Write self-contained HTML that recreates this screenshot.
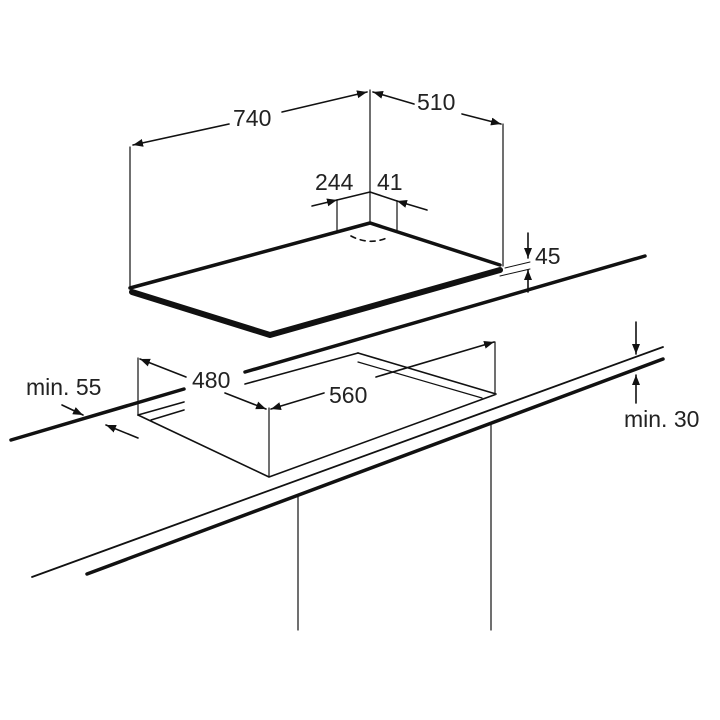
<!DOCTYPE html>
<html><head><style>html,body{margin:0;padding:0;background:#fff}svg{display:block}</style></head>
<body>
<svg width="720" height="720" viewBox="0 0 720 720" xmlns="http://www.w3.org/2000/svg">
<defs>
<marker id="a" viewBox="0 0 10 10" refX="10" refY="5" markerWidth="10" markerHeight="10" orient="auto-start-reverse" markerUnits="userSpaceOnUse">
<path d="M0,1 L10,5 L0,9 z" fill="#111"/></marker>
</defs>
<g stroke="#111" fill="none" stroke-linecap="round">
<line x1="370" y1="90" x2="370" y2="223" stroke-width="1.2"/>
<line x1="130" y1="147" x2="130" y2="288" stroke-width="1.2"/>
<line x1="503" y1="124" x2="503" y2="266" stroke-width="1.2"/>
<line x1="229" y1="124" x2="133" y2="145" stroke-width="1.6" marker-end="url(#a)"/>
<line x1="282" y1="112" x2="367" y2="92" stroke-width="1.6" marker-end="url(#a)"/>
<line x1="414" y1="104" x2="373" y2="92" stroke-width="1.6" marker-end="url(#a)"/>
<line x1="462" y1="114" x2="501" y2="124" stroke-width="1.6" marker-end="url(#a)"/>
<line x1="370" y1="192" x2="337" y2="200" stroke-width="1.6"/>
<line x1="312" y1="206" x2="337" y2="200" stroke-width="1.6" marker-end="url(#a)"/>
<line x1="370" y1="192" x2="397" y2="201" stroke-width="1.6"/>
<line x1="427" y1="210" x2="397" y2="201" stroke-width="1.6" marker-end="url(#a)"/>
<line x1="337" y1="200" x2="337" y2="232" stroke-width="1.2"/>
<line x1="397" y1="201" x2="397" y2="230" stroke-width="1.2"/>
<path d="M351,236 Q370,246 389,237" stroke-width="1.6" stroke-dasharray="5,5"/>
<polyline points="130,288 370,223 500,265" stroke-width="3.5"/>
<polyline points="132,292 270,335 500,270" stroke-width="6" stroke-linejoin="round"/>
<line x1="528" y1="233" x2="528" y2="258" stroke-width="1.6" marker-end="url(#a)"/>
<line x1="528" y1="292" x2="528" y2="270" stroke-width="1.6" marker-end="url(#a)"/>
<line x1="505" y1="268" x2="530" y2="262" stroke-width="1"/>
<line x1="500" y1="276" x2="530" y2="269" stroke-width="1"/>
<line x1="245" y1="372" x2="645" y2="256" stroke-width="3.5"/>
<line x1="245" y1="384" x2="358" y2="353" stroke-width="1.6"/>
<polyline points="358,353 496,394" stroke-width="1.6"/>
<polyline points="358,362 482,398" stroke-width="1.2"/>
<line x1="138" y1="358" x2="138" y2="415" stroke-width="1.2"/>
<line x1="495" y1="342" x2="495" y2="395" stroke-width="1.2"/>
<line x1="269" y1="408" x2="269" y2="477" stroke-width="1.2"/>
<polyline points="138,415 269,477 494,395" stroke-width="1.6" stroke-linejoin="round"/>
<line x1="138" y1="415" x2="184" y2="402" stroke-width="1.6"/>
<line x1="151" y1="420" x2="184" y2="410" stroke-width="1.6"/>
<line x1="11" y1="440" x2="184" y2="389" stroke-width="3.5"/>
<line x1="32" y1="577" x2="663" y2="347" stroke-width="1.8"/>
<line x1="87" y1="574" x2="663" y2="359" stroke-width="3.5"/>
<line x1="298" y1="495" x2="298" y2="630" stroke-width="1.2"/>
<line x1="491" y1="424" x2="491" y2="630" stroke-width="1.2"/>
<line x1="636" y1="322" x2="636" y2="354" stroke-width="1.6" marker-end="url(#a)"/>
<line x1="636" y1="403" x2="636" y2="375" stroke-width="1.6" marker-end="url(#a)"/>
<line x1="62" y1="405" x2="83" y2="415" stroke-width="1.6" marker-end="url(#a)"/>
<line x1="138" y1="438" x2="106" y2="425" stroke-width="1.6" marker-end="url(#a)"/>
<line x1="186" y1="377" x2="140" y2="359" stroke-width="1.6" marker-end="url(#a)"/>
<line x1="225" y1="393" x2="266" y2="409" stroke-width="1.6" marker-end="url(#a)"/>
<line x1="324" y1="393" x2="271" y2="409" stroke-width="1.6" marker-end="url(#a)"/>
<line x1="376" y1="377" x2="494" y2="342" stroke-width="1.6" marker-end="url(#a)"/>
</g>
<g font-family="Liberation Sans, Arial, sans-serif" font-size="23" fill="#222">
<text x="233" y="126">740</text>
<text x="417" y="110">510</text>
<text x="315" y="190">244</text>
<text x="377" y="190">41</text>
<text x="535" y="264">45</text>
<text x="192" y="388">480</text>
<text x="329" y="403">560</text>
<text x="26" y="395">min. 55</text>
<text x="624" y="427">min. 30</text>
</g>
</svg>
</body></html>
